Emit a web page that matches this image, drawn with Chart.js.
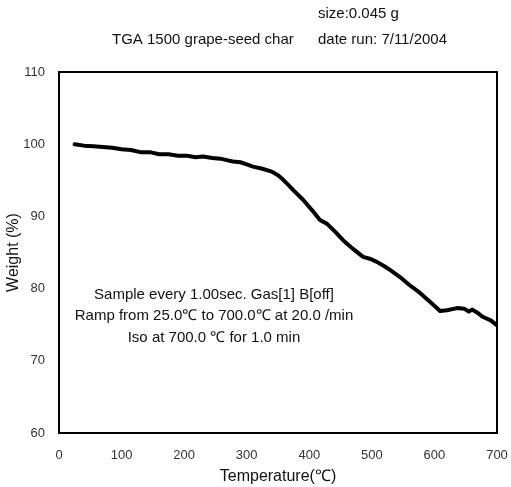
<!DOCTYPE html>
<html>
<head>
<meta charset="utf-8">
<script src="https://cdn.jsdelivr.net/npm/chart.js@4"></script>
<style>
html,body{margin:0;padding:0;background:#fff;}
#wrap{width:511px;height:487px;}
</style>
</head>
<body>
<div id="wrap"><canvas id="c" width="511" height="487"></canvas></div>
<script>
const temperatures = [25, 40, 55, 70, 85, 100, 115, 130, 145, 160, 175, 190, 205, 218, 230, 245, 258, 268, 278, 290, 300, 310, 325, 340, 350, 358, 366, 376, 390, 405, 417, 428, 440, 454, 470, 486, 498, 508, 520, 529, 545, 560, 577, 595, 609, 620, 636, 648, 655, 660, 668, 677, 690, 700];
const weights = [100.0, 99.8, 99.7, 99.6, 99.5, 99.3, 99.2, 98.9, 98.9, 98.6, 98.6, 98.4, 98.4, 98.2, 98.3, 98.1, 98.0, 97.8, 97.6, 97.5, 97.2, 96.9, 96.6, 96.2, 95.7, 95.1, 94.4, 93.5, 92.3, 90.8, 89.5, 89.0, 88.0, 86.7, 85.5, 84.4, 84.1, 83.7, 83.1, 82.6, 81.6, 80.5, 79.4, 78.0, 76.9, 77.0, 77.3, 77.2, 76.8, 77.1, 76.7, 76.1, 75.6, 74.9];
const xTicks = [0, 100, 200, 300, 400, 500, 600, 700];
const yTicks = [60, 70, 80, 90, 100, 110];
const titleText = 'TGA 1500 grape-seed char';
const sizeText = 'size:0.045 g';
const dateText = 'date run: 7/11/2004';
const noteLines = ['Sample every 1.00sec. Gas[1] B[off]', 'Ramp from 25.0\u2103 to 700.0\u2103 at 20.0 /min', 'Iso at 700.0 \u2103 for 1.0 min'];
const xTitle = 'Temperature(\u2103)';
const yTitle = 'Weight (%)';

const FONT = '"Liberation Sans", Arial, sans-serif';
const points = temperatures.map((t, i) => ({x: t, y: weights[i]}));

const textPlugin = {
  id: 'texts',
  afterDraw(chart) {
    const ctx = chart.ctx;
    const a = chart.chartArea;
    ctx.save();
    ctx.strokeStyle = '#000';
    ctx.lineWidth = 2;
    ctx.strokeRect(a.left, a.top, a.right - a.left, a.bottom - a.top);
    ctx.fillStyle = '#111';
    ctx.font = '15px ' + FONT;
    ctx.textBaseline = 'middle';
    ctx.textAlign = 'left';
    ctx.fillText(titleText, 112, 40);
    ctx.fillText(sizeText, 318, 14);
    ctx.fillText(dateText, 318, 40);
    ctx.textAlign = 'center';
    const cx = 214;
    ctx.fillText(noteLines[0], cx, 295);
    ctx.fillText(noteLines[1], cx, 316);
    ctx.fillText(noteLines[2], cx, 338);
    ctx.font = '16px ' + FONT;
    ctx.fillText(xTitle, (a.left + a.right) / 2, 477);
    ctx.restore();
  }
};

new Chart(document.getElementById('c'), {
  type: 'line',
  data: {
    datasets: [{
      data: points,
      borderColor: '#000',
      borderWidth: 4,
      pointRadius: 0,
      tension: 0,
      borderJoinStyle: 'round',
      borderCapStyle: 'round',
      fill: false
    }]
  },
  options: {
    responsive: false,
    animation: false,
    layout: {padding: {top: 72, right: 14, left: 0, bottom: 0}},
    plugins: {legend: {display: false}, tooltip: {enabled: false}, title: {display: false}},
    scales: {
      x: {
        type: 'linear', min: 0, max: 700,
        afterBuildTicks(s) { s.ticks = xTicks.map(v => ({value: v})); },
        afterFit(s) { s.height = 54; s.paddingLeft = 0; s.paddingRight = 0; },
        grid: {display: false, drawTicks: false},
        border: {display: false},
        ticks: {color: '#333', font: {family: FONT, size: 13}, padding: 15, maxRotation: 0},
        title: {display: false}
      },
      y: {
        min: 60, max: 110,
        afterBuildTicks(s) { s.ticks = yTicks.map(v => ({value: v})); },
        afterFit(s) { s.width = 59; s.paddingTop = 0; s.paddingBottom = 0; },
        grid: {display: false, drawTicks: false},
        border: {display: false},
        ticks: {color: '#333', font: {family: FONT, size: 13}, padding: 14},
        title: {display: true, text: yTitle, color: '#111', font: {family: FONT, size: 16}, padding: {bottom: 0}}
      }
    }
  },
  plugins: [textPlugin]
});
</script>
</body>
</html>
